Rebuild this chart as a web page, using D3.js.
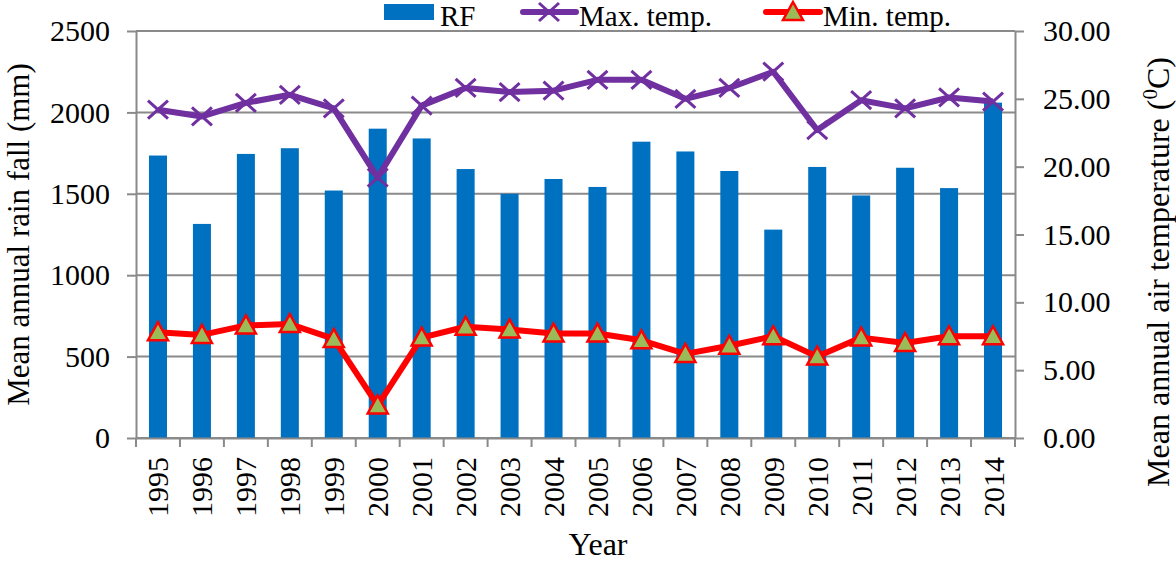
<!DOCTYPE html>
<meta charset="utf-8">
<style>
body { margin: 0; background: #fff; }
svg text { font-family: "Liberation Serif", "Times New Roman", serif; fill: #000; }
.grid line { stroke: #8a8a8a; stroke-width: 2; }
.axis path, .axis line { stroke: #8a8a8a; stroke-width: 2; }
</style>
<body>
<script src="https://d3js.org/d3.v7.min.js"></script>
<script>

var years = ["1995","1996","1997","1998","1999","2000","2001","2002","2003","2004",
             "2005","2006","2007","2008","2009","2010","2011","2012","2013","2014"];

// annual rain fall (mm)
var rainfall = [1735, 1315, 1745, 1780, 1520, 1900, 1840, 1652, 1500, 1591,
                1542, 1820, 1760, 1640, 1280, 1665, 1490, 1660, 1535, 2060];

// max / min temperature (C)
var maxTemp = [24.2, 23.7, 24.7, 25.3, 24.3, 19.2, 24.5, 25.8, 25.5, 25.6,
               26.4, 26.4, 25.0, 25.8, 27.0, 22.7, 24.9, 24.3, 25.1, 24.8];
var minTemp = [7.8, 7.6, 8.3, 8.4, 7.3, 2.4, 7.4, 8.2, 8.0, 7.7,
               7.7, 7.2, 6.2, 6.8, 7.5, 6.0, 7.4, 7.0, 7.5, 7.5];

var rainTicks = [0, 500, 1000, 1500, 2000, 2500];
var tempTicks = [0, 5, 10, 15, 20, 25, 30];

var serif = '"Liberation Serif", "Times New Roman", serif';

var margin = {top: 31, right: 161, bottom: 123, left: 136},
    width = 1176 - margin.left - margin.right,
    height = 561 - margin.top - margin.bottom;

var svg = d3.select("body").append("svg")
    .attr("width", 1176)
    .attr("height", 561);

var g = svg.append("g")
    .attr("transform", "translate(" + margin.left + "," + margin.top + ")");

var x = d3.scaleBand()
    .domain(years)
    .range([0, width]);

var yRain = d3.scaleLinear()
    .domain([0, 2500])
    .range([height, 0]);

var yTemp = d3.scaleLinear()
    .domain([0, 30])
    .range([height, 0]);

// horizontal grid
g.append("g")
    .attr("class", "grid")
  .selectAll("line")
  .data(rainTicks)
  .enter().append("line")
    .attr("x1", 0)
    .attr("x2", width)
    .attr("y1", function(d) { return yRain(d); })
    .attr("y2", function(d) { return yRain(d); });

// bars
var barW = x.bandwidth() * 0.41;
g.append("g")
  .selectAll("rect")
  .data(rainfall)
  .enter().append("rect")
    .attr("x", function(d, i) { return x(years[i]) + x.bandwidth() / 2 - barW / 2; })
    .attr("y", function(d) { return yRain(d); })
    .attr("width", barW)
    .attr("height", function(d) { return height - yRain(d); })
    .attr("fill", "#0070C0");

// left axis
var axL = g.append("g")
    .attr("class", "axis")
    .call(d3.axisLeft(yRain).tickValues(rainTicks).tickSize(9).tickSizeOuter(0).tickPadding(17)
      .tickFormat(d3.format("d")));
axL.attr("font-family", serif);
axL.selectAll("text").style("font-size", "30px").style("font-family", serif);

// right axis
var axR = g.append("g")
    .attr("class", "axis")
    .attr("transform", "translate(" + width + ",0)")
    .call(d3.axisRight(yTemp).tickValues(tempTicks).tickSize(9).tickSizeOuter(0).tickPadding(19)
      .tickFormat(d3.format(".2f")));
axR.attr("font-family", serif);
axR.selectAll("text").style("font-size", "30px").style("font-family", serif);

// bottom axis : ticks between categories
var axB = g.append("g")
    .attr("class", "axis")
    .attr("transform", "translate(0," + height + ")")
    .call(d3.axisBottom(x).tickSize(0).tickSizeOuter(0));
axB.attr("font-family", serif);
axB.selectAll("text")
    .style("font-size", "30px")
    .style("font-family", serif)
    .attr("text-anchor", "end")
    .attr("transform", "rotate(-90)")
    .attr("x", -19)
    .attr("y", 0)
    .attr("dy", "0.35em");
axB.selectAll(".sep")
  .data(d3.range(years.length + 1))
  .enter().append("line")
    .attr("class", "sep")
    .attr("x1", function(d) { return d * x.step(); })
    .attr("x2", function(d) { return d * x.step(); })
    .attr("y1", 0)
    .attr("y2", 9);

// max temp line
var lineMax = d3.line()
    .x(function(d, i) { return x(years[i]) + x.bandwidth() / 2; })
    .y(function(d) { return yTemp(d); });

g.append("path")
    .datum(maxTemp)
    .attr("fill", "none")
    .attr("stroke", "#7030A0")
    .attr("stroke-width", 6)
    .attr("stroke-linejoin", "round")
    .attr("d", lineMax);

var cross = "M-10,-9L10,9M-10,9L10,-9";
g.append("g")
  .selectAll("path")
  .data(maxTemp)
  .enter().append("path")
    .attr("transform", function(d, i) {
      return "translate(" + (x(years[i]) + x.bandwidth() / 2) + "," + yTemp(d) + ")"; })
    .attr("d", cross)
    .attr("stroke", "#7030A0")
    .attr("stroke-width", 3)
    .attr("fill", "none");

// min temp line
g.append("path")
    .datum(minTemp)
    .attr("fill", "none")
    .attr("stroke", "#FF0000")
    .attr("stroke-width", 6)
    .attr("stroke-linejoin", "round")
    .attr("d", lineMax);

var tri = "M0,-10L10,8L-10,8Z";
g.append("g")
  .selectAll("path")
  .data(minTemp)
  .enter().append("path")
    .attr("transform", function(d, i) {
      return "translate(" + (x(years[i]) + x.bandwidth() / 2) + "," + yTemp(d) + ")"; })
    .attr("d", tri)
    .attr("fill", "#9BBB59")
    .attr("stroke", "#FF0000")
    .attr("stroke-width", 2.5);

// axis titles
svg.append("text")
    .attr("transform", "translate(29," + (margin.top + height / 2) + ") rotate(-90)")
    .attr("text-anchor", "middle")
    .style("font-size", "31px")
    .text("Mean annual rain fall (mm)");

var rt = svg.append("text")
    .attr("transform", "translate(1169,272) rotate(-90)")
    .attr("text-anchor", "middle")
    .style("font-size", "32px");
rt.append("tspan").text("Mean annual air temperature (");
rt.append("tspan").attr("dy", -12).style("font-size", "21px").text("0");
rt.append("tspan").attr("dy", 12).text("C)");

svg.append("text")
    .attr("x", 598)
    .attr("y", 555)
    .attr("text-anchor", "middle")
    .style("font-size", "32px")
    .text("Year");

// legend
var leg = svg.append("g");
leg.append("rect")
    .attr("x", 384).attr("y", 4)
    .attr("width", 50).attr("height", 16)
    .attr("fill", "#0070C0");
leg.append("text").attr("x", 440).attr("y", 26).style("font-size", "29px").text("RF");

leg.append("line")
    .attr("x1", 523).attr("x2", 576).attr("y1", 12).attr("y2", 12)
    .attr("stroke", "#7030A0").attr("stroke-width", 6).attr("stroke-linecap", "round");
leg.append("path")
    .attr("transform", "translate(549,12)")
    .attr("d", cross)
    .attr("stroke", "#7030A0").attr("stroke-width", 3);
leg.append("text").attr("x", 579).attr("y", 26).style("font-size", "29px").text("Max. temp.");

leg.append("line")
    .attr("x1", 766).attr("x2", 820).attr("y1", 12).attr("y2", 12)
    .attr("stroke", "#FF0000").attr("stroke-width", 6).attr("stroke-linecap", "round");
leg.append("path")
    .attr("transform", "translate(793,12)")
    .attr("d", tri)
    .attr("fill", "#9BBB59").attr("stroke", "#FF0000").attr("stroke-width", 2.5);
leg.append("text").attr("x", 823).attr("y", 26).style("font-size", "29px").text("Min. temp.");

</script>
